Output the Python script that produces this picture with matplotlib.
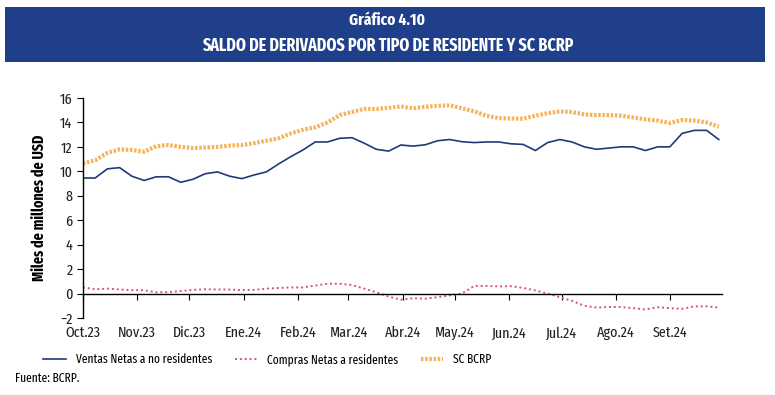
import matplotlib
matplotlib.use("Agg")
import matplotlib.pyplot as plt
from matplotlib.patches import Rectangle
import pandas as pd

plt.rcParams['font.family'] = ['Fira Sans Extra Condensed', 'DejaVu Sans']

# datos semanales (miles de millones de USD)
fechas = pd.date_range('2023-10-01', periods=53, freq='7D')
ventas_no_res = [9.45, 9.45, 10.2, 10.3, 9.6, 9.25, 9.55, 9.55, 9.1, 9.35,
                 9.8, 9.95, 9.6, 9.4, 9.7, 9.95, 10.6, 11.2, 11.75, 12.4,
                 12.4, 12.7, 12.75, 12.3, 11.8, 11.65, 12.15, 12.06, 12.17, 12.5,
                 12.6, 12.42, 12.35, 12.4, 12.4, 12.25, 12.2, 11.7, 12.35, 12.6,
                 12.4, 12.0, 11.8, 11.9, 12.0, 12.0, 11.7, 12.0, 12.0, 13.1,
                 13.35, 13.35, 12.6]
compras_res = [0.5, 0.35, 0.4, 0.33, 0.28, 0.27, 0.1, 0.12, 0.2, 0.3,
               0.35, 0.33, 0.33, 0.28, 0.3, 0.4, 0.45, 0.5, 0.5, 0.65,
               0.8, 0.8, 0.7, 0.4, 0.1, -0.25, -0.5, -0.38, -0.42, -0.3,
               -0.15, 0.0, 0.62, 0.62, 0.58, 0.6, 0.46, 0.25, 0.0, -0.3,
               -0.6, -1.0, -1.15, -1.1, -1.1, -1.2, -1.3, -1.12, -1.2, -1.25,
               -1.05, -1.05, -1.15]
sc_bcrp = [10.65, 10.9, 11.5, 11.8, 11.75, 11.6, 12.05, 12.15, 12.0, 11.9,
           11.95, 12.0, 12.1, 12.15, 12.3, 12.5, 12.7, 13.1, 13.4, 13.6,
           14.0, 14.6, 14.85, 15.1, 15.1, 15.2, 15.3, 15.15, 15.28, 15.35,
           15.4, 15.15, 14.9, 14.55, 14.35, 14.32, 14.3, 14.55, 14.75, 14.9,
           14.85, 14.65, 14.6, 14.6, 14.55, 14.4, 14.25, 14.15, 13.95, 14.2,
           14.15, 14.0, 13.65]
meses = ['Oct.23', 'Nov.23', 'Dic.23', 'Ene.24', 'Feb.24', 'Mar.24',
         'Abr.24', 'May.24', 'Jun.24', 'Jul.24', 'Ago.24', 'Set.24']

fig = plt.figure(figsize=(7.75, 3.95), dpi=100)

# banda del titulo
fig.patches.append(Rectangle((0.0065, 0.843), 0.9805, 0.139, transform=fig.transFigure,
                             facecolor='#1F3F8A', edgecolor='none'))
fig.text(0.5, 0.948, 'Gráfico 4.10', color='white', fontsize=12, fontweight='bold',
         ha='center', va='center')
fig.text(0.5, 0.884, 'SALDO DE DERIVADOS POR TIPO DE RESIDENTE Y SC BCRP', color='white',
         fontsize=12.5, fontweight='bold', ha='center', va='center')

ax = fig.add_axes([0.107, 0.195, 0.825, 0.557])
ax.plot(fechas, sc_bcrp, color='#F6B45A', lw=3, ls=(0, (0.6, 0.4)), label='SC BCRP')
ax.plot(fechas, ventas_no_res, color='#1F3A7A', lw=1.2, label='Ventas Netas a no residentes')
ax.plot(fechas, compras_res, color='#D9546A', lw=1.4, ls=(0, (1, 1.5)),
        label='Compras Netas a residentes')

ax.set_ylim(-2, 16)
ax.set_yticks(range(-2, 17, 2))
ax.set_xlim(pd.Timestamp('2023-10-01'), pd.Timestamp('2024-10-01'))
ticks = pd.date_range('2023-10-01', periods=12, freq='MS')
ax.set_xticks(ticks)
ax.set_xticklabels(meses)

for s in ['top', 'right']:
    ax.spines[s].set_visible(False)
ax.spines['bottom'].set_position(('data', 0))
ax.spines['bottom'].set_linewidth(1)
ax.spines['left'].set_linewidth(1)
ax.tick_params(axis='x', direction='out', length=4, pad=19.5, labelsize=11, colors='black',
               labelcolor='#222222')
ax.tick_params(axis='y', direction='out', length=4, labelsize=11, labelcolor='#222222')
ax.set_ylabel('Miles de millones de USD', fontsize=11, fontweight='bold', labelpad=9)

h, l = ax.get_legend_handles_labels()
orden = [1, 2, 0]
fig.legend([h[i] for i in orden], [l[i] for i in orden], loc='center', ncol=3,
           bbox_to_anchor=(0.345, 0.09), frameon=False, fontsize=9, handlelength=1.8,
           columnspacing=1.8)

fig.text(0.019, 0.043, 'Fuente: BCRP.', fontsize=9, ha='left', va='center')

fig.savefig('out.png', dpi=100)
